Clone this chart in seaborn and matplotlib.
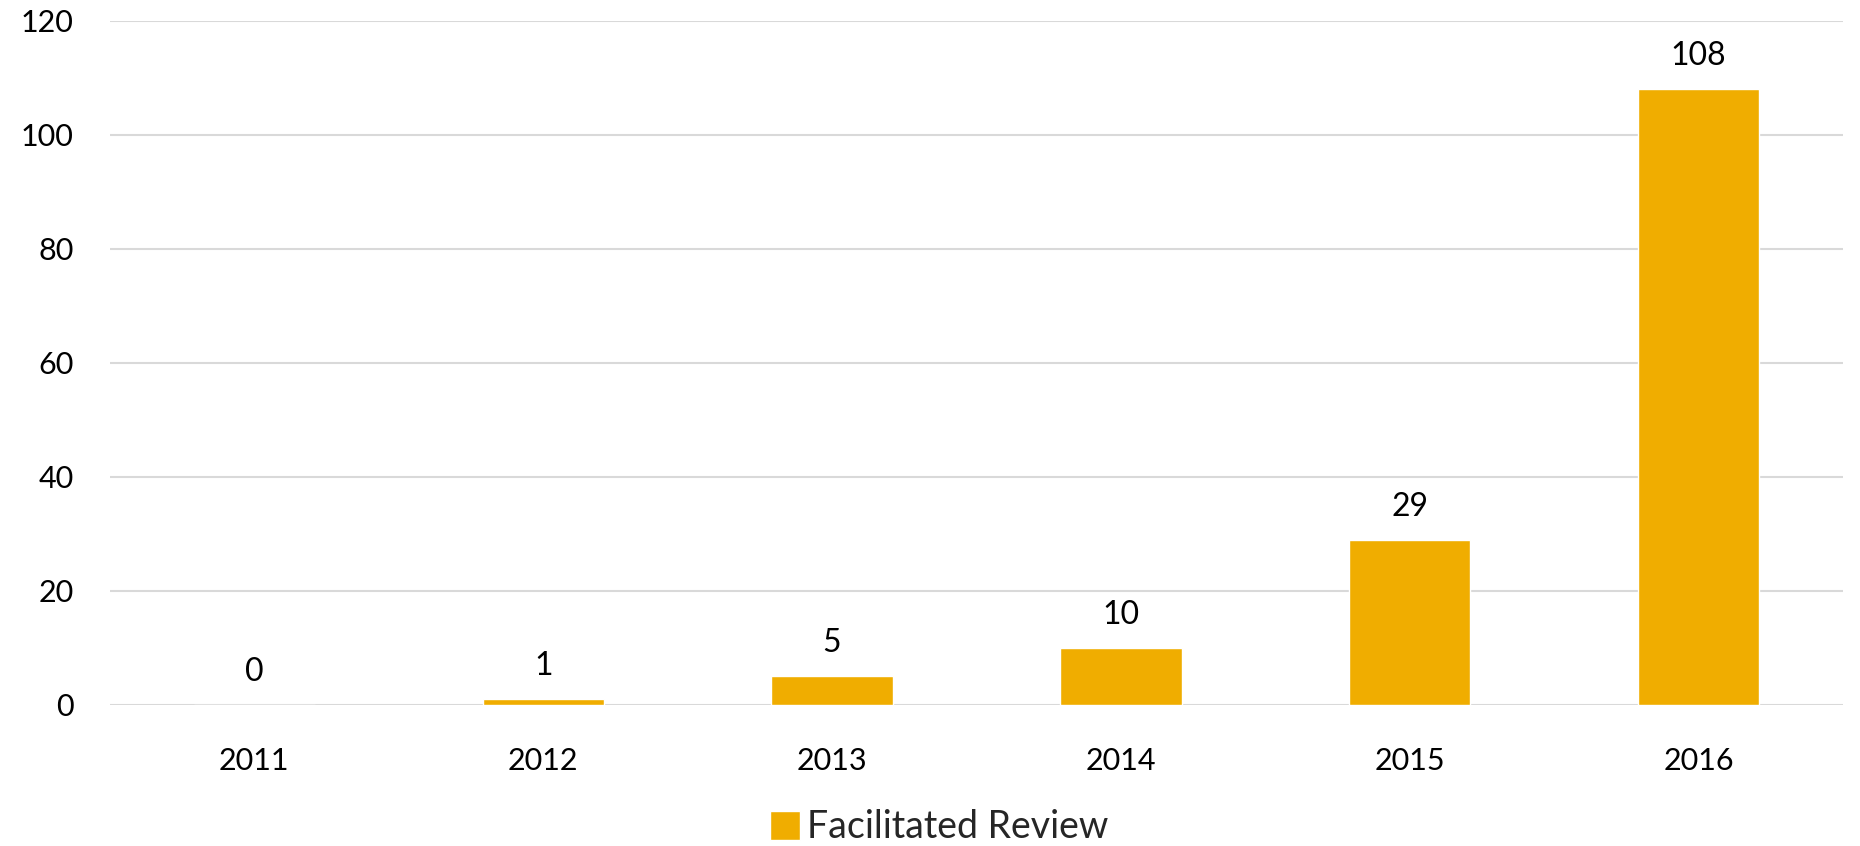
import pandas as pd
import seaborn as sns
import matplotlib.pyplot as plt

years = ["2011", "2012", "2013", "2014", "2015", "2016"]
reviews = [0, 1, 5, 10, 29, 108]
series_name = "Facilitated Review"
y_ticks = [0, 20, 40, 60, 80, 100, 120]

df = pd.DataFrame({"Year": years, "Count": reviews})

sns.set_style("white")
plt.rcParams["font.family"] = ["Lato", "DejaVu Sans"]

fig = plt.figure(figsize=(18.6, 8.46), dpi=100)
ax = fig.add_axes([0.0591, 0.1667, 0.9318, 0.8085])

bar_color = "#F0AD00"
sns.barplot(data=df, x="Year", y="Count", color=bar_color, saturation=1,
            width=0.42, label=series_name, ax=ax, zorder=3)

ax.set_ylim(0, 120)
ax.set_xlim(-0.5, len(years) - 0.5)
ax.set_yticks(y_ticks)
ax.yaxis.grid(True, color="#d9d9d9", linewidth=1.5, zorder=0)
ax.set_axisbelow(True)
for s in ax.spines.values():
    s.set_visible(False)
ax.tick_params(axis="both", length=0, labelsize=22, colors="black")
ax.tick_params(axis="x", pad=30)
ax.tick_params(axis="y", pad=26)
ax.set_xlabel("")
ax.set_ylabel("")

# value labels above bars
for i, v in enumerate(reviews):
    ax.annotate(str(v), xy=(i, v), xytext=(0, 13), textcoords="offset points",
                ha="center", va="bottom", fontsize=23, color="black")

if ax.get_legend() is not None:
    ax.get_legend().remove()
handles, labels = ax.get_legend_handles_labels()
fig.legend(handles[:1], labels[:1], loc="center", bbox_to_anchor=(0.505, 0.022),
           frameon=False, fontsize=27, handlelength=0.8, handleheight=0.8,
           handletextpad=0.2, borderaxespad=0)

plt.savefig("out.png", dpi=100)
